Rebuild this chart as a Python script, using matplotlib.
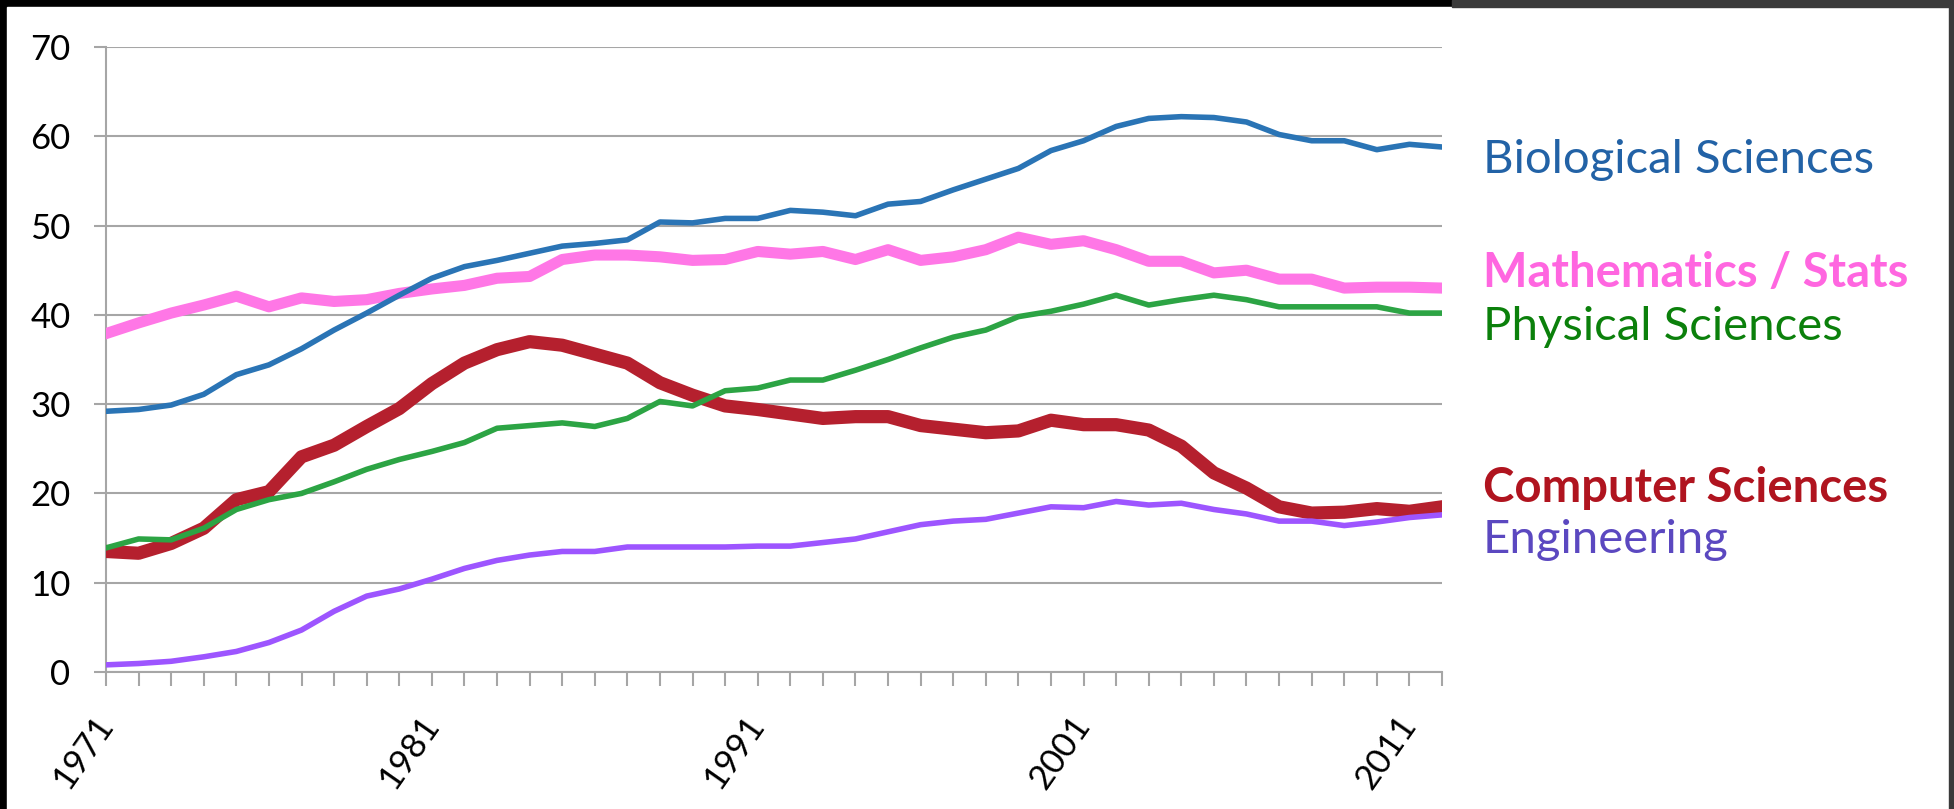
import matplotlib
matplotlib.use('Agg')
import matplotlib.pyplot as plt
from matplotlib.patches import Rectangle

plt.rcParams['font.family'] = ['Lato', 'DejaVu Sans']

# 数据（从图上读取，单位：%）
years = list(range(1971, 2013))
bio = [29.2, 29.4, 29.9, 31.1, 33.3, 34.4, 36.2, 38.3, 40.2, 42.2,
       44.1, 45.4, 46.1, 46.9, 47.7, 48.0, 48.4, 50.4, 50.3, 50.8,
       50.8, 51.7, 51.5, 51.1, 52.4, 52.7, 54.0, 55.2, 56.4, 58.4,
       59.5, 61.1, 62.0, 62.2, 62.1, 61.6, 60.2, 59.5, 59.5, 58.5,
       59.1, 58.8]
math = [37.9, 39.1, 40.2, 41.1, 42.1, 40.9, 41.9, 41.5, 41.7, 42.4,
        42.9, 43.3, 44.1, 44.3, 46.2, 46.7, 46.7, 46.5, 46.1, 46.2,
        47.1, 46.8, 47.1, 46.2, 47.3, 46.1, 46.5, 47.3, 48.7, 47.9,
        48.3, 47.3, 46.0, 46.0, 44.7, 45.0, 44.0, 44.0, 43.0, 43.1,
        43.1, 43.0]
phys = [13.9, 14.9, 14.8, 16.1, 18.2, 19.3, 20.0, 21.3, 22.7, 23.8,
        24.7, 25.7, 27.3, 27.6, 27.9, 27.5, 28.4, 30.3, 29.8, 31.5,
        31.8, 32.7, 32.7, 33.8, 35.0, 36.3, 37.5, 38.3, 39.8, 40.4,
        41.2, 42.2, 41.1, 41.7, 42.2, 41.7, 40.9, 40.9, 40.9, 40.9,
        40.2, 40.2]
cs = [13.5, 13.3, 14.4, 16.1, 19.3, 20.2, 24.1, 25.4, 27.5, 29.5,
      32.3, 34.6, 36.1, 37.0, 36.6, 35.6, 34.6, 32.4, 31.0, 29.8,
      29.4, 28.9, 28.4, 28.6, 28.6, 27.6, 27.2, 26.8, 27.0, 28.2,
      27.7, 27.7, 27.1, 25.3, 22.3, 20.6, 18.5, 17.8, 17.9, 18.3,
      18.0, 18.5]
eng = [0.8, 0.95, 1.2, 1.7, 2.3, 3.3, 4.7, 6.8, 8.5, 9.3,
       10.4, 11.6, 12.5, 13.1, 13.5, 13.5, 14.0, 14.0, 14.0, 14.0,
       14.1, 14.1, 14.5, 14.9, 15.7, 16.5, 16.9, 17.1, 17.8, 18.5,
       18.4, 19.1, 18.7, 18.9, 18.2, 17.7, 16.9, 16.9, 16.4, 16.8,
       17.3, 17.6]

label_years = [1971, 1981, 1991, 2001, 2011]
y_ticks = [0, 10, 20, 30, 40, 50, 60, 70]

W, H = 1954, 809
fig = plt.figure(figsize=(W / 100, H / 100), dpi=100)
fig.patch.set_facecolor('black')

# 幻灯片白底 + 右上角深灰边
fig.add_artist(Rectangle((7 / W, 0), (1949 - 7) / W, (H - 7) / H,
                         transform=fig.transFigure, color='white', zorder=-2))
fig.add_artist(Rectangle((1452 / W, (H - 7) / H), (W - 1452) / W, 7 / H,
                         transform=fig.transFigure, color='#3a3a3a', zorder=-2))
fig.add_artist(Rectangle((1949 / W, 0), 5 / W, 1,
                         transform=fig.transFigure, color='#3a3a3a', zorder=-2))

ax = fig.add_axes([106 / W, 1 - 672 / H, (1442 - 106) / W, (672 - 47) / H])
ax.set_facecolor('none')

# 折线
ax.plot(years, cs, color='#b5202e', lw=9.5, solid_joinstyle='round', zorder=3)
ax.plot(years, math, color='#ff77e6', lw=8, solid_joinstyle='round', zorder=4)
ax.plot(years, bio, color='#2a74b5', lw=4, solid_joinstyle='round', zorder=5)
ax.plot(years, phys, color='#2ca444', lw=4, solid_joinstyle='round', zorder=6)
ax.plot(years, eng, color='#9d55ff', lw=4, solid_joinstyle='round', zorder=7)

ax.set_xlim(1971, 2012)
ax.set_ylim(0, 70)

# 网格和坐标轴
grid_c = '#a6a6a6'
ax.set_yticks(y_ticks)
ax.yaxis.grid(True, color=grid_c, lw=1.5)
ax.set_axisbelow(True)
for s in ['top', 'right']:
    ax.spines[s].set_visible(False)
for s in ['left', 'bottom']:
    ax.spines[s].set_color(grid_c)
    ax.spines[s].set_linewidth(1.5)

ax.set_xticks(label_years)
ax.set_xticks(years, minor=True)
ax.set_xticklabels([str(y) for y in label_years], rotation=55, ha='right',
                   va='center', rotation_mode='anchor')
ax.tick_params(axis='x', which='both', length=10, width=1.5, color=grid_c,
               labelsize=25, pad=24)
ax.tick_params(axis='y', length=8.6, width=1.5, color=grid_c,
               labelsize=25, pad=17)

# 右侧标签
def label(txt, y_base, color, bold=False):
    fig.text(1483 / W, 1 - y_base / H, txt, color=color, fontsize=34,
             fontweight='bold' if bold else 'normal', ha='left', va='baseline')

label('Biological Sciences', 173, '#2262a6')
label('Mathematics / Stats', 287, '#ff66e0', bold=True)
label('Physical Sciences', 340, '#0b800b')
label('Computer Sciences', 502, '#b0141f', bold=True)
label('Engineering', 553, '#5b48c0')

fig.savefig('out.png', dpi=100, facecolor=fig.get_facecolor())
